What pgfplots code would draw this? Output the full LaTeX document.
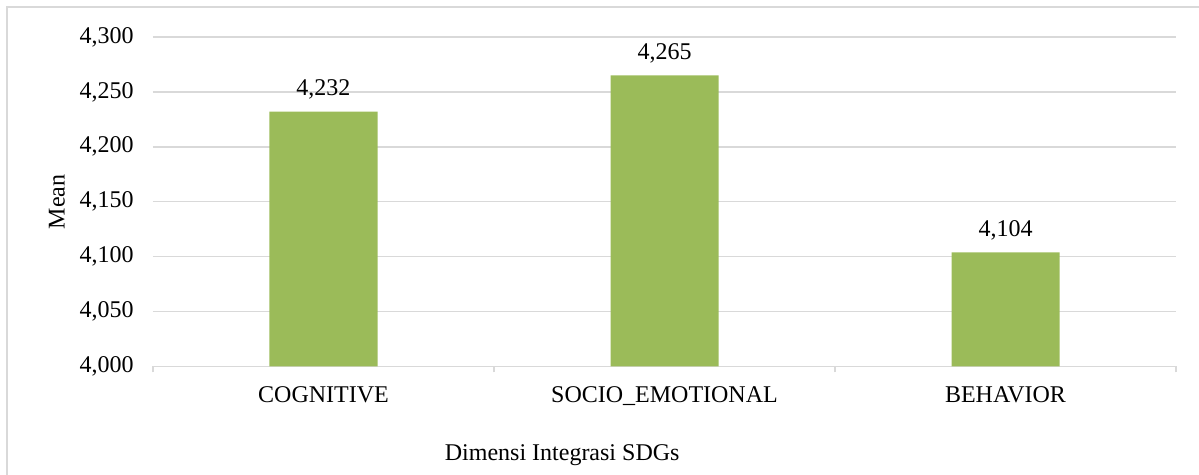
\documentclass[border=0pt]{standalone}
\usepackage{pgfplots}
\pgfplotsset{compat=1.18}
\usepackage{fontspec}
\setmainfont{Liberation Serif}
\definecolor{bargreen}{HTML}{9BBB59}
\definecolor{gridgray}{HTML}{D9D9D9}
\begin{document}
\begin{tikzpicture}
\path[use as bounding box] (-76.5pt,-54.25pt) rectangle (523pt,183.25pt);
\draw[gridgray, line width=0.75pt] (-73pt,-70pt) -- (-73pt,179.75pt) -- (540pt,179.75pt);
\begin{axis}[
  name=ax,
  at={(0,0)}, anchor=south west,
  scale only axis,
  width=511.5pt, height=164.75pt,
  xmin=-0.5, xmax=2.5,
  ymin=4, ymax=4.3,
  ytick={4,4.05,4.1,4.15,4.2,4.25,4.3},
  xtick={0,1,2},
  xticklabels={COGNITIVE,SOCIO\_EMOTIONAL,BEHAVIOR},
  minor xtick={-0.5,0.5,1.5,2.5},
  major x tick style={draw=none},
  minor x tick style={draw=gridgray, line width=0.75pt},
  minor tick length=3pt,
  tick align=outside,
  ytick style={draw=none},
  ymajorgrids,
  grid style={draw=gridgray, line width=0.75pt},
  axis x line=bottom,
  axis y line=left,
  axis line style={-},
  x axis line style={draw=gridgray, line width=0.75pt},
  y axis line style={draw=none},
  font=\fontsize{12pt}{14pt}\selectfont,
  /pgf/number format/.cd, fixed, fixed zerofill, precision=3, use comma, 1000 sep={}, assume math mode=true,
  /pgfplots/.cd,
  yticklabel style={anchor=east, xshift=-4pt, font=\fontsize{12pt}{14pt}\selectfont},
  xticklabel style={anchor=base, yshift=-13.75pt, font=\fontsize{12pt}{14pt}\selectfont},
  ylabel={Mean},
  ylabel style={at={(axis description cs:0,0.5)}, anchor=center, rotate=0, yshift=48pt, font=\fontsize{12pt}{14pt}\selectfont},
  xlabel={Dimensi Integrasi SDGs},
  xlabel style={at={(axis description cs:0.4,0)}, anchor=base, yshift=-47.25pt, font=\fontsize{12pt}{14pt}\selectfont},
  ybar,
  bar width=54pt,
  nodes near coords,
  nodes near coords style={anchor=base, yshift=8pt, font=\fontsize{12pt}{14pt}\selectfont, /pgf/number format/.cd, fixed, fixed zerofill, precision=3, use comma, assume math mode=true},
  clip=false,
]
\addplot[fill=bargreen, draw=none] coordinates {(0,4.232) (1,4.265) (2,4.104)};
\end{axis}
\end{tikzpicture}
\end{document}
